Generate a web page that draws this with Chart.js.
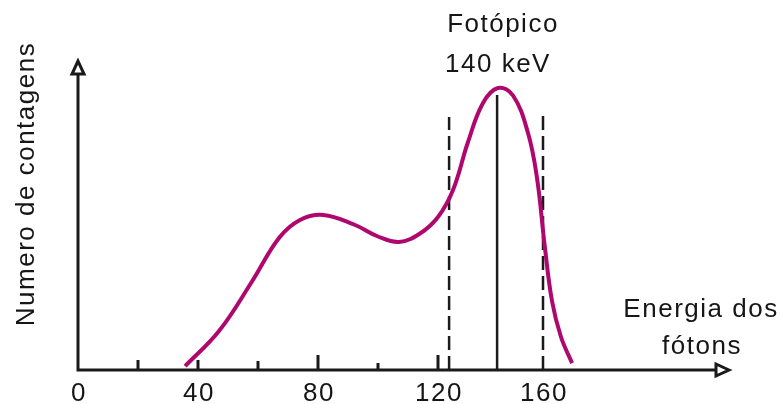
<!DOCTYPE html>
<html>
<head>
<meta charset="utf-8">
<script src="https://cdn.jsdelivr.net/npm/chart.js@4"></script>
<style>
  html, body { margin: 0; padding: 0; background: #fff; }
  #wrap { width: 781px; height: 404px; }
</style>
</head>
<body>
<div id="wrap"><canvas id="grafico"></canvas></div>
<script>
// Espectro de energia
const energia   = [35.7, 47, 58, 67, 74, 81.7, 92, 100, 107, 114, 120, 125, 130, 135, 140, 145, 150, 153, 155.5, 158, 161, 164.7];
const contagens = [1.3, 13, 29.5, 44, 50, 51.7, 48.5, 44.5, 42.7, 45.5, 51, 60, 76, 89, 94, 91.5, 79, 64, 42, 23, 11, 2.3];

// Janela de energia (tracejado) e linha do fotopico
const janelaX    = [123.7, 155];
const janelaTopo = [84.3, 85];
const fotopicoX    = 139.7;
const fotopicoTopo = 91.7;

// Marcas e rótulos do eixo x
const marcasX   = [20, 40, 60, 80, 100, 120];
const marcasLen = [10, 10, 9, 15, 7, 15];
const rotulosPos = [0, 40, 80, 120, 155];
const rotulos    = ['0', '40', '80', '120', '160'];

const FONTE = '26px "Liberation Sans", Arial, sans-serif';
const COR_TXT = '#161616';

// Função para desenhar uma seta aberta
function seta(ctx, x, y, dir) {
    ctx.beginPath();
    if (dir === 'up') {
        ctx.moveTo(x, y);
        ctx.lineTo(x - 6, y + 13);
        ctx.lineTo(x + 6, y + 13);
    } else {
        ctx.moveTo(x, y);
        ctx.lineTo(x - 13, y - 6);
        ctx.lineTo(x - 13, y + 6);
    }
    ctx.closePath();
    ctx.fillStyle = '#fff';
    ctx.fill();
    ctx.stroke();
}

const eixosPlugin = {
    id: 'eixos',
    afterDatasetsDraw(chart) {
        const ctx = chart.ctx;
        const sx = chart.scales.x, sy = chart.scales.y;
        const x0 = sx.getPixelForValue(0), y0 = sy.getPixelForValue(0);
        const xMax = sx.getPixelForValue(sx.max), yMax = sy.getPixelForValue(sy.max);
        ctx.save();
        ctx.strokeStyle = '#1a1a1a';
        ctx.lineWidth = 3;
        ctx.lineJoin = 'miter';

        // eixos
        ctx.beginPath();
        ctx.moveTo(x0, yMax + 12);
        ctx.lineTo(x0, y0);
        ctx.lineTo(xMax - 12, y0);
        ctx.stroke();
        seta(ctx, x0, yMax, 'up');
        seta(ctx, xMax, y0, 'right');

        // marcas no eixo x
        ctx.beginPath();
        marcasX.forEach((v, i) => {
            const px = sx.getPixelForValue(v);
            ctx.moveTo(px, y0);
            ctx.lineTo(px, y0 - marcasLen[i]);
        });
        ctx.stroke();

        // textos
        ctx.fillStyle = COR_TXT;
        ctx.font = FONTE;
        ctx.letterSpacing = '1.5px';
        ctx.textAlign = 'center';
        ctx.textBaseline = 'alphabetic';
        rotulosPos.forEach((v, i) => {
            ctx.fillText(rotulos[i], sx.getPixelForValue(v) + 1, 401);
        });
        ctx.fillText('Fotópico', 503, 32);
        ctx.fillText('140 keV', 498, 72);
        ctx.fillText('Energia dos', 701, 317);
        ctx.fillText('fótons', 702, 354);

        ctx.translate(34, 184);
        ctx.rotate(-Math.PI / 2);
        ctx.fillText('Numero de contagens', 0, 0);
        ctx.restore();
    }
};

const datasets = [{
    data: energia.map((x, i) => ({ x: x, y: contagens[i] })),
    borderColor: '#b0076e',
    borderWidth: 4,
    pointRadius: 0,
    tension: 0.4,
    clip: false
}];
janelaX.forEach((x, i) => {
    datasets.push({
        data: [{ x: x, y: 0 }, { x: x, y: janelaTopo[i] }],
        borderColor: '#1a1a1a',
        borderWidth: 2.5,
        borderDash: [14, 6],
        pointRadius: 0,
        clip: false
    });
});
datasets.push({
    data: [{ x: fotopicoX, y: 0 }, { x: fotopicoX, y: fotopicoTopo }],
    borderColor: '#1a1a1a',
    borderWidth: 2.5,
    pointRadius: 0,
    clip: false
});

new Chart(document.getElementById('grafico'), {
    type: 'line',
    data: { datasets: datasets },
    options: {
        responsive: true,
        maintainAspectRatio: false,
        animation: false,
        layout: { padding: { left: 78, right: 52, top: 61, bottom: 34 } },
        plugins: { legend: { display: false }, tooltip: { enabled: false } },
        scales: {
            x: { type: 'linear', min: 0, max: 217, display: false },
            y: { type: 'linear', min: 0, max: 103, display: false }
        }
    },
    plugins: [eixosPlugin]
});
</script>
</body>
</html>
